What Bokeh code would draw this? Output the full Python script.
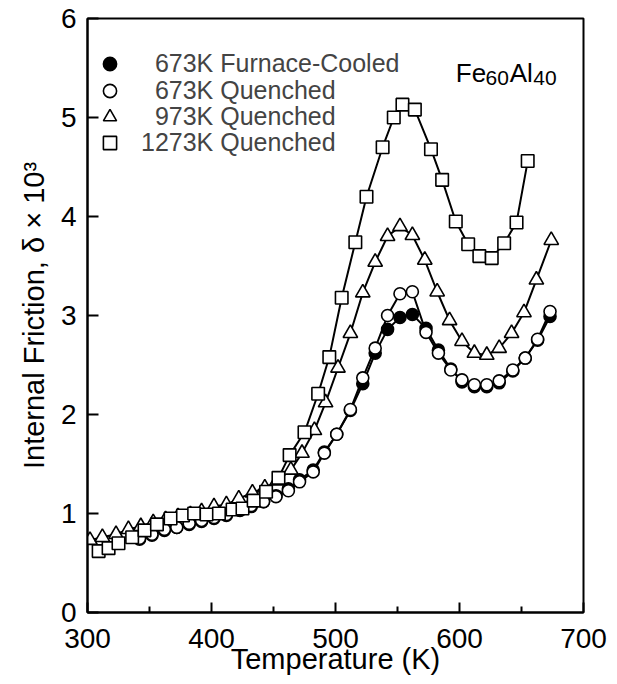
from bokeh.plotting import figure
from bokeh.models import FixedTicker, Legend, LegendItem, Label, Range1d
from bokeh.embed import file_html
from bokeh.resources import INLINE

# ---- data ----
t_1273 = [309, 317, 325, 336, 346, 356, 367, 377, 386, 396, 406, 417, 425, 434, 444, 454, 463,
          475, 486, 495, 505, 516, 525, 538, 547, 554, 564, 577, 586, 597, 607, 616, 626, 636, 646, 655]
d_1273 = [0.62, 0.65, 0.70, 0.76, 0.83, 0.89, 0.95, 0.98, 1.00, 0.99, 1.00, 1.04, 1.05, 1.13, 1.22, 1.36, 1.59,
          1.82, 2.21, 2.58, 3.18, 3.74, 4.20, 4.70, 5.00, 5.13, 5.08, 4.68, 4.37, 3.95, 3.72, 3.60, 3.58, 3.73, 3.94, 4.56]

t_973 = [302, 312, 323, 333, 343, 353, 363, 373, 383, 392, 402, 412, 422, 433, 443, 453, 464, 473, 483,
         492, 502, 512, 522, 532, 542, 552, 562, 572, 582, 592, 602, 612, 622, 632, 642, 652, 662, 674]
d_973 = [0.73, 0.76, 0.79, 0.84, 0.87, 0.91, 0.94, 0.97, 0.99, 1.02, 1.07, 1.09, 1.15, 1.21, 1.26, 1.33, 1.44, 1.61, 1.84,
         2.12, 2.47, 2.82, 3.23, 3.54, 3.80, 3.90, 3.81, 3.56, 3.24, 2.95, 2.74, 2.62, 2.60, 2.67, 2.82, 3.03, 3.36, 3.76]

t_673q = [342, 352, 362, 372, 382, 392, 402, 412, 423, 432, 442, 452, 462, 471, 482, 491, 501, 512,
          522, 532, 542, 552, 562, 573, 583, 593, 602, 612, 622, 632, 643, 653, 663, 673]
d_673q = [0.75, 0.79, 0.84, 0.86, 0.90, 0.93, 0.96, 0.99, 1.04, 1.08, 1.12, 1.17, 1.23, 1.32, 1.42, 1.61, 1.80, 2.05,
          2.37, 2.67, 3.00, 3.22, 3.24, 2.83, 2.62, 2.45, 2.35, 2.30, 2.30, 2.34, 2.45, 2.57, 2.76, 3.04]

t_673fc = [342, 352, 362, 372, 382, 392, 402, 412, 423, 432, 442, 452, 462, 471, 482, 491, 501, 512,
           522, 532, 542, 552, 562, 573, 583, 593, 602, 612, 622, 632, 643, 653, 663, 673]
d_673fc = [0.74, 0.78, 0.83, 0.86, 0.89, 0.92, 0.95, 0.98, 1.03, 1.07, 1.12, 1.18, 1.25, 1.34, 1.44, 1.62, 1.80, 2.04,
           2.31, 2.62, 2.86, 2.98, 3.01, 2.87, 2.65, 2.46, 2.33, 2.28, 2.28, 2.32, 2.44, 2.57, 2.75, 2.99]

x_ticks = [300, 400, 500, 600, 700]
x_minor = [350, 450, 550, 650]
y_ticks = [0, 1, 2, 3, 4, 5, 6]

labels = ["\u00a0\u00a0673K Furnace-Cooled", "\u00a0\u00a0673K Quenched",
          "\u00a0\u00a0973K Quenched", "1273K Quenched"]

FONT = "Liberation Sans"

p = figure(width=617, height=684, x_range=Range1d(300, 700), y_range=Range1d(0, 6),
           output_backend="svg", toolbar_location=None,
           min_border_left=87, min_border_right=34, min_border_top=18, min_border_bottom=72)
p.grid.visible = False
p.outline_line_color = "black"
p.outline_line_width = 2
p.background_fill_color = "white"
p.border_fill_color = "white"

for ax in (p.xaxis[0], p.yaxis[0]):
    ax.axis_line_width = 2
    ax.axis_line_color = "black"
    ax.major_tick_line_width = 2
    ax.minor_tick_line_width = 2
    ax.major_tick_out = 0
    ax.minor_tick_out = 0
    ax.major_label_text_font = FONT
    ax.major_label_text_font_size = "28px"
    ax.major_label_text_color = "black"
    ax.axis_label_text_font = FONT
    ax.axis_label_text_font_size = "29px"
    ax.axis_label_text_font_style = "normal"
    ax.axis_label_text_color = "black"

p.xaxis.ticker = FixedTicker(ticks=x_ticks, minor_ticks=x_minor)
p.xaxis.major_tick_in = 10
p.xaxis.minor_tick_in = 6
p.xaxis.major_label_standoff = 16
p.xaxis.axis_label = "Temperature (K)"
p.xaxis.axis_label_standoff = -8

p.yaxis.ticker = FixedTicker(ticks=y_ticks, minor_ticks=[])
p.yaxis.major_tick_in = 11
p.yaxis.major_label_standoff = 11
p.yaxis.axis_label = "Internal Friction, \u03b4 \u00d7 10\u00b3"
p.yaxis.axis_label_standoff = 8

LW = 2
MLW = 1.6

# 673K furnace-cooled
p.line(t_673fc, d_673fc, line_color="black", line_width=LW)
r_fc = p.scatter(t_673fc, d_673fc, marker="circle", size=12, fill_color="black",
                 line_color="black", line_width=MLW)
# 673K quenched
p.line(t_673q, d_673q, line_color="black", line_width=LW)
r_q = p.scatter(t_673q, d_673q, marker="circle", size=12, fill_color="white",
                line_color="black", line_width=MLW)
# 973K quenched
p.line(t_973, d_973, line_color="black", line_width=LW)
r_973 = p.scatter(t_973, d_973, marker="triangle", size=14.5, fill_color="white",
                  line_color="black", line_width=MLW)
# 1273K quenched
p.line(t_1273, d_1273, line_color="black", line_width=LW)
r_1273 = p.scatter(t_1273, d_1273, marker="square", size=12.5, fill_color="white",
                   line_color="black", line_width=MLW)

# one single-row legend per entry so that the row pitch matches
for lab, rend, vy in zip(labels, [r_fc, r_q, r_973, r_1273], [532, 505, 479, 453]):
    lg = Legend(items=[LegendItem(label=lab, renderers=[rend])],
                location=(6, vy), padding=0, margin=0, spacing=0,
                glyph_width=33, glyph_height=33, label_standoff=15,
                label_text_font=FONT, label_text_font_size="25px",
                border_line_color=None, background_fill_alpha=0)
    p.add_layout(lg)

for txt, xx, yy, fs in [("Fe", 597, 5.451, "26px"), ("60", 621.0, 5.40, "21px"),
                        ("Al", 640.5, 5.451, "26px"), ("40", 659.5, 5.40, "21px")]:
    p.add_layout(Label(x=xx, y=yy, text=txt, text_font=FONT, text_font_size=fs,
                       text_baseline="alphabetic", text_align="left", text_color="black"))

open("out.html", "w").write(file_html(p, INLINE))
